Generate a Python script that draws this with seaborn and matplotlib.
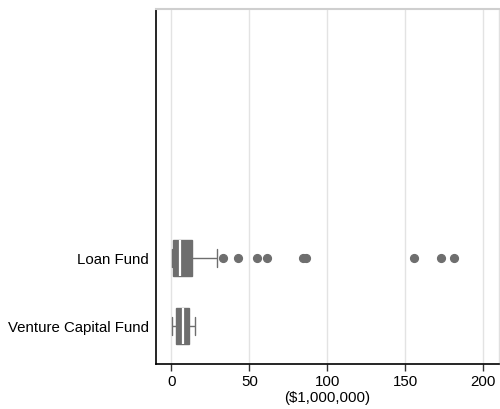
import matplotlib
matplotlib.use("Agg")
import matplotlib.pyplot as plt
import seaborn as sns
import pandas as pd

# Fund sizes in millions of dollars, by fund type
fund_types = ["Loan Fund", "Venture Capital Fund"]

loan_fund = [
    0.3, 0.4, 0.5, 0.5, 0.6, 0.6, 0.7, 0.8, 0.8, 0.9,
    0.9, 1.2, 1.6, 2.0, 2.5, 3.0, 3.4, 4.0, 4.5, 5.1,
    5.6, 6.2, 7.0, 7.8, 8.5, 9.4, 10.2, 11.0, 12.0, 12.8,
    13.5, 29.5,
    33.3, 42.6, 55.1, 61.2, 84.2, 86.3, 155.8, 172.7, 181.0,
]
venture_capital_fund = [0.45, 1.5, 2.8, 5.0, 7.3, 9.0, 11.5, 13.0, 15.0]

x_ticks = [0, 50, 100, 150, 200]
x_label = "($1,000,000)"

df = pd.DataFrame({
    "type": [fund_types[0]] * len(loan_fund) + [fund_types[1]] * len(venture_capital_fund),
    "size": loan_fund + venture_capital_fund,
})

sns.set_theme(style="white")
plt.rcParams["font.family"] = ["Liberation Sans", "DejaVu Sans"]

fig = plt.figure(figsize=(5.0, 4.1), dpi=100)
ax = fig.add_axes([0.312, 0.1098, 0.686, 0.8658])

gray = "#6e6e6e"
sns.boxplot(
    data=df, x="size", y="type", order=fund_types, orient="h",
    color=gray, saturation=1, width=0.53, whis=1.5, linecolor=gray,
    linewidth=1.0, fliersize=5.6, ax=ax,
    boxprops=dict(facecolor=gray, edgecolor=gray),
    medianprops=dict(color="white", linewidth=1.6),
    whiskerprops=dict(color=gray, linewidth=1.0),
    capprops=dict(color=gray, linewidth=1.0),
    flierprops=dict(marker="o", markerfacecolor=gray, markeredgecolor=gray),
)

fs = 10.8
ax.set_xlim(-9.8, 210)
ax.set_ylim(1.559, -3.662)
ax.set_xticks(x_ticks)
ax.set_xticklabels([str(t) for t in x_ticks], fontsize=fs, color="black")
ax.tick_params(axis="y", length=0, pad=5, labelsize=fs, labelcolor="black")
ax.tick_params(axis="x", length=5, width=1, color="#333333", pad=2, bottom=True)
ax.set_xlabel(x_label, fontsize=fs, color="black", labelpad=2)
ax.set_ylabel("")

ax.grid(axis="x", color="#e3e3e3", linewidth=1.0)
ax.set_axisbelow(True)

for side in ("left", "bottom"):
    ax.spines[side].set_color("black")
    ax.spines[side].set_linewidth(1.2)
ax.spines["top"].set_color("#cfcfcf")
ax.spines["top"].set_linewidth(1.5)
ax.spines["right"].set_color("#e0e0e0")
ax.spines["right"].set_linewidth(1.0)

fig.savefig("out.png", dpi=100, facecolor="white")
